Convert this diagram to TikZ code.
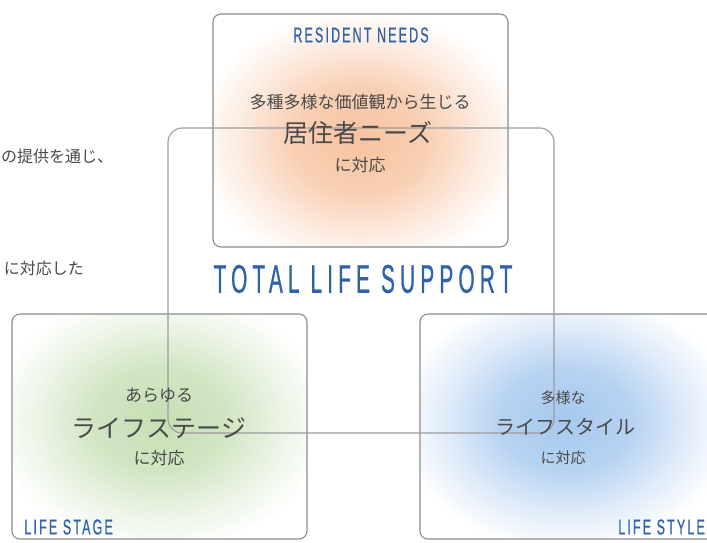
\documentclass[tikz,border=0pt]{standalone}
\usepackage{fontspec}
\setmainfont{Liberation Sans}
\newfontfamily\jp{Noto Sans CJK JP}
\newfontfamily\condA[FakeStretch=0.58,LetterSpace=10,FakeBold=0.6]{Liberation Sans}
\newfontfamily\condB[FakeStretch=0.52,LetterSpace=13,FakeBold=0.6]{Liberation Sans}
\definecolor{jtext}{HTML}{4A4A4A}
\definecolor{lblue}{HTML}{2F62A8}
\definecolor{boxgray}{HTML}{8C8C8C}
\definecolor{linegray}{HTML}{9C9C9C}
\definecolor{peachC}{HTML}{F7C3A0}
\definecolor{greenC}{HTML}{C6DFB4}
\definecolor{blueC}{HTML}{A6C8EE}
\pgfdeclareradialshading{glowpeach}{\pgfpoint{0bp}{0bp}}{color(0bp)=(peachC); color(10bp)=(peachC!80!white); color(18bp)=(peachC!35!white); color(25bp)=(white); color(50bp)=(white)}
\pgfdeclareradialshading{glowgreen}{\pgfpoint{0bp}{0bp}}{color(0bp)=(greenC); color(10bp)=(greenC!80!white); color(18bp)=(greenC!35!white); color(25bp)=(white); color(50bp)=(white)}
\pgfdeclareradialshading{glowblue}{\pgfpoint{0bp}{0bp}}{color(0bp)=(blueC); color(10bp)=(blueC!80!white); color(18bp)=(blueC!35!white); color(25bp)=(white); color(50bp)=(white)}
\tikzset{
  panel/.style={draw=boxgray, line width=1.1pt, rounded corners=8pt, rectangle,
    minimum width=295pt, minimum height=225pt, inner sep=0pt},
  loopline/.style={draw=linegray, line width=1.1pt, rounded corners=14pt},
  jsmall/.style={text=jtext, inner sep=0pt, font={\jp\fontsize{17}{17}\selectfont}},
  jmid/.style={text=jtext, inner sep=0pt, font={\jp\fontsize{15}{15}\selectfont}},
  jbig/.style={text=jtext, inner sep=0pt, font={\jp\fontsize{25}{25}\selectfont}},
  jfrag/.style={text=jtext, inner sep=0pt, font={\jp\fontsize{16}{16}\selectfont}},
  enlabel/.style={text=lblue, inner sep=0pt, font={\condA\fontsize{21.5}{21.5}\selectfont}},
  entitle/.style={text=lblue, inner sep=0pt, font={\condB\fontsize{40}{40}\selectfont}}
}
\begin{document}
\begin{tikzpicture}[x=1pt, y=-1pt]
\useasboundingbox[fill=white] (0,0) rectangle (707,542);
% glows (drawn first, clipped to the panel outlines)
\begin{scope}
  \clip[rounded corners=8pt] (213,14) rectangle (508,247);
  \shade[shading=glowpeach] (360,140) ellipse (165 and 130);
\end{scope}
\begin{scope}
  \clip[rounded corners=8pt] (12,314) rectangle (307,539);
  \shade[shading=glowgreen] (160,420) ellipse (168 and 130);
\end{scope}
\begin{scope}
  \clip[rounded corners=8pt] (420,314) rectangle (715,539);
  \shade[shading=glowblue] (566,420) ellipse (168 and 130);
\end{scope}
% panels
\node[panel, minimum height=233pt] (needs) at (360.5,130.5) {};
\node[panel] (stage) at (159.5,426.5) {};
\node[panel] (style) at (567.5,426.5) {};
% connecting loop
\coordinate (lt) at (168,128);
\coordinate (rb) at (554,433);
\draw[loopline] (lt) rectangle (rb);
% top panel texts
\node[enlabel] (rnlab) at (361,35) {RESIDENT NEEDS};
\node[jsmall] (rn1) at (360,102) {多種多様な価値観から生じる};
\node[jbig] (rn2) at (358,133) {居住者ニーズ};
\node[jsmall] (rn3) at (360,165) {に対応};
% title
\node[entitle] (tls) at (363,279) {TOTAL LIFE SUPPORT};
% left panel texts
\node[jsmall] (ls1) at (159,395) {あらゆる};
\node[jbig] (ls2) at (159,428) {ライフステージ};
\node[jsmall] (ls3) at (159,458) {に対応};
\node[enlabel, anchor=east] (lslab) at (113,527) {LIFE STAGE};
% right panel texts
\node[jmid] (ly1) at (563,398) {多様な};
\node[jbig, font={\jp\fontsize{20}{20}\selectfont}] (ly2) at (565,427) {ライフスタイル};
\node[jmid] (ly3) at (563,458) {に対応};
\node[enlabel, anchor=east] (lylab) at (705,527) {LIFE STYLE};
% cut-off paragraph fragments
\node[jfrag, anchor=west] (fr1) at (1,156) {の提供を通じ、};
\node[jfrag, anchor=east] (fr2) at (84,268) {に対応した};
\end{tikzpicture}
\end{document}
